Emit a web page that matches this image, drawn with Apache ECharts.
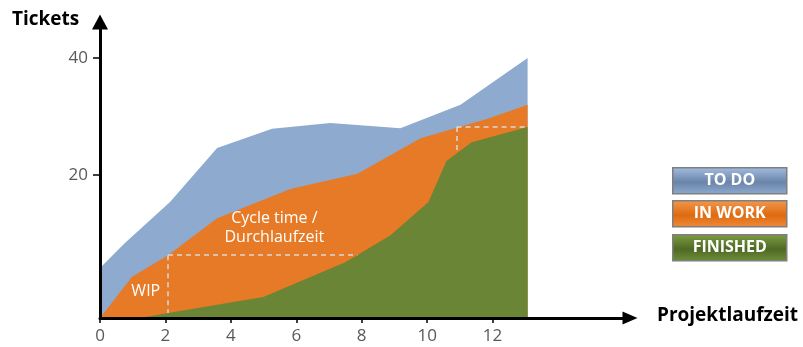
<!DOCTYPE html>
<html>
<head>
<meta charset="utf-8">
<script src="https://cdn.jsdelivr.net/npm/echarts@6/dist/echarts.min.js"></script>
<style>
html, body { margin: 0; padding: 0; background: #fff; }
#chart { width: 803px; height: 347px; }
</style>
</head>
<body>
<div id="chart"></div>
<script>
// Kumulatives Flussdiagramm (schematisch)
var seriesNames = ['TO DO', 'IN WORK', 'FINISHED'];
var xTicks = [0, 2, 4, 6, 8, 10, 12];
var yTicks = [20, 40];
// [zeit, tickets] - Eckpunkte der Flaechen
var todoData = [[0, 4.1], [0.77, 8.4], [2.14, 15.4], [3.58, 24.6], [5.26, 27.9], [7.04, 28.9], [7.96, 28.5], [9.18, 28.0], [11.02, 32.0], [13.07, 40.0]];
var inWorkData = [[0, -4.44], [0.98, 2.6], [2.08, 6.3], [3.58, 12.6], [5.82, 17.6], [7.87, 20.2], [9.8, 26.3], [11.85, 29.6], [13.07, 32.0]];
var finishedData = [[0, -4.44], [1.22, -4.44], [2.08, -3.6], [4.99, -0.85], [7.5, 5.1], [8.88, 9.7], [10.04, 15.4], [10.59, 22.4], [11.36, 25.6], [13.07, 28.2]];
var areaColors = ['#8EAACE', '#E77A26', '#6A8535'];
var boxGradients = [
	['#A3BEE2', '#6B85A8', '#8FAAD0'],
	['#F29A50', '#DF6A0F', '#EE8B3C'],
	['#7E9E44', '#4E6924', '#6F8F39']
];
// WIP / Durchlaufzeit Markierungen
var wipLine = [[2.08, 6.3], [2.08, -3.6]];
var cycleLine = [[2.08, 6.3], [7.87, 6.3]];
var wip2Line = [[10.9, 28.2], [10.9, 24.1]];
var cycle2Line = [[10.9, 28.2], [13.07, 28.2]];

var yMin = -4.44, yMax = 46.15;

window.onload = function() {
	var chart = echarts.init(document.getElementById('chart'));
	var dash = { color: '#D9D9D9', type: [5, 4], width: 1.5 };

	function areaSeries(name, data, color, extra) {
		var s = {
			name: name,
			type: 'line',
			data: data,
			symbol: 'none',
			silent: true,
			lineStyle: { width: 0 },
			areaStyle: { color: color, opacity: 1, origin: 'start' }
		};
		for (var k in extra) s[k] = extra[k];
		return s;
	}

	var option = {
		animation: false,
		grid: { left: 100, right: 173, top: 22, bottom: 29 },
		xAxis: {
			type: 'value',
			min: 0,
			max: 16.2,
			z: 10,
			axisLine: { show: true, onZero: false, lineStyle: { color: '#000', width: 3 }, symbol: ['none', 'triangle'], symbolSize: [13, 15] },
			axisTick: { show: true, length: 5, lineStyle: { color: '#000', width: 1.5 }, customValues: xTicks },
			axisLabel: { color: '#595959', fontSize: 17, fontFamily: 'Open Sans', margin: 10, customValues: xTicks },
			splitLine: { show: false }
		},
		yAxis: {
			type: 'value',
			min: yMin,
			max: yMax,
			z: 10,
			axisLine: { show: true, onZero: false, lineStyle: { color: '#000', width: 3 }, symbol: ['none', 'triangle'], symbolSize: [16, 15] },
			axisTick: { show: true, length: 7, lineStyle: { color: '#000', width: 1.5 }, customValues: yTicks },
			axisLabel: { color: '#595959', fontSize: 17, fontFamily: 'Open Sans', margin: 12, customValues: yTicks },
			splitLine: { show: false }
		},
		series: [
			areaSeries(seriesNames[0], todoData, areaColors[0], { z: 1 }),
			areaSeries(seriesNames[1], inWorkData, areaColors[1], { z: 2 }),
			areaSeries(seriesNames[2], finishedData, areaColors[2], {
				z: 3,
				markLine: {
					silent: true,
					symbol: 'none',
					label: { show: false },
					lineStyle: dash,
					data: [
						[{ coord: wipLine[0] }, { coord: wipLine[1] }],
						[{ coord: cycleLine[0] }, { coord: cycleLine[1] }],
						[{ coord: wip2Line[0] }, { coord: wip2Line[1] }],
						[{ coord: cycle2Line[0] }, { coord: cycle2Line[1] }]
					]
				},
				markPoint: {
					silent: true,
					symbolSize: 0,
					label: { show: true, color: '#fff', fontSize: 16, fontFamily: 'Open Sans', lineHeight: 19, align: 'center' },
					data: [
						{ coord: [1.4, 0.05], value: 'WIP', label: { formatter: 'WIP' } },
						{ coord: [5.33, 10.9], value: 'cycle', label: { formatter: 'Cycle time /\nDurchlaufzeit' } }
					]
				}
			})
		],
		graphic: []
	};

	// Achsentitel
	option.graphic.push({
		type: 'text', left: 12, top: 10,
		style: { text: 'Tickets', fill: '#000', font: 'bold 19px "Open Sans"' }
	});
	option.graphic.push({
		type: 'text', left: 657, top: 306,
		style: { text: 'Projektlaufzeit', fill: '#000', font: 'bold 19px "Open Sans"' }
	});

	// Legende als Kaesten
	var boxTops = [167, 200, 234];
	for (var i = 0; i < seriesNames.length; i++) {
		var g = boxGradients[i];
		option.graphic.push({
			type: 'group', left: 672, top: boxTops[i],
			children: [{
				type: 'rect',
				shape: { x: 0, y: 0, width: 114, height: 26 },
				style: {
					fill: new echarts.graphic.LinearGradient(0, 0, 0, 1, [
						{ offset: 0, color: g[0] }, { offset: 0.55, color: g[1] }, { offset: 1, color: g[2] }
					]),
					stroke: '#7F7F7F', lineWidth: 1.5
				}
			}, {
				type: 'text',
				style: { text: seriesNames[i], x: 57, y: 13, align: 'center', verticalAlign: 'middle', fill: '#fff', font: 'bold 16px "Open Sans"' }
			}]
		});
	}

	chart.setOption(option);
};
</script>
</body>
</html>
